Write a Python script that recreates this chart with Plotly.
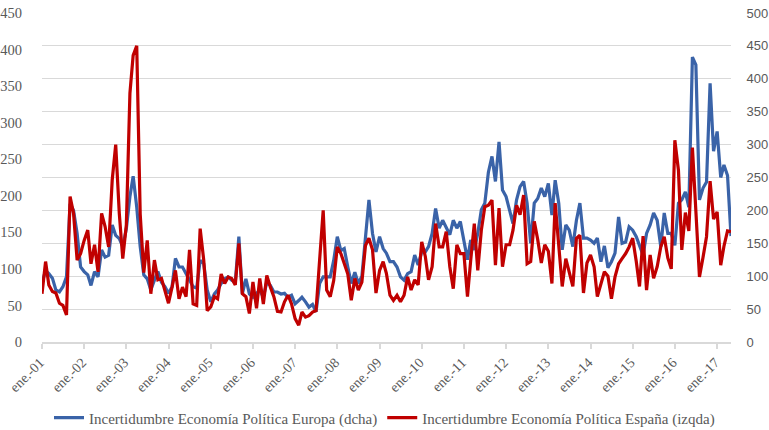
import pandas as pd
import plotly.graph_objects as go

# Índices mensuales, ene. 2001 - may. 2017
europa = [
    89, 109, 104, 97, 79, 76, 84, 99, 210, 200, 165, 114,
    107, 102, 86, 107, 99, 140, 129, 132, 178, 162, 157, 145,
    172, 221, 252, 205, 145, 102, 96, 79, 94, 107, 91, 84,
    74, 84, 127, 114, 114, 104, 95, 84, 82, 124, 119, 79,
    61, 73, 79, 89, 96, 99, 94, 91, 160, 73, 96, 73,
    68, 73, 79, 68, 91, 86, 76, 76, 73, 74, 68, 71,
    58, 63, 68, 61, 53, 57, 46, 89, 99, 99, 99, 124,
    160, 139, 142, 114, 89, 106, 89, 100, 165, 216, 165, 137,
    160, 142, 135, 122, 122, 114, 99, 94, 104, 107, 132, 117,
    137, 137, 145, 165, 203, 173, 185, 175, 163, 185, 173, 183,
    152, 125, 155, 140, 165, 201, 211, 258, 282, 244, 304, 231,
    221, 201, 180, 216, 236, 244, 211, 150, 211, 218, 234, 221,
    241, 193, 246, 211, 140, 178, 170, 145, 185, 211, 158, 158,
    155, 150, 158, 122, 146, 113, 122, 135, 190, 150, 152, 175,
    170, 160, 145, 132, 165, 178, 196, 185, 145, 196, 165, 165,
    147, 211, 216, 228, 205, 433, 421, 216, 234, 243, 393, 290,
    320, 250, 269, 253, 161,
]
espana = [
    66, 110, 78, 69, 67, 53, 50, 37, 199, 176, 112, 121,
    139, 153, 107, 133, 96, 176, 158, 130, 222, 270, 176, 114,
    160, 340, 392, 405, 175, 95, 139, 66, 112, 85, 87, 71,
    53, 75, 98, 59, 75, 62, 126, 52, 50, 155, 112, 43,
    48, 62, 59, 93, 80, 89, 87, 78, 135, 66, 62, 39,
    82, 46, 87, 52, 91, 75, 62, 42, 41, 55, 64, 52,
    32, 23, 41, 34, 36, 41, 43, 112, 180, 71, 62, 84,
    130, 121, 107, 93, 57, 87, 71, 82, 132, 142, 126, 67,
    98, 110, 94, 64, 57, 64, 55, 64, 89, 71, 85, 78,
    137, 117, 85, 103, 162, 130, 130, 151, 103, 73, 133, 121,
    121, 62, 112, 162, 98, 153, 185, 187, 194, 105, 183, 103,
    133, 133, 153, 187, 174, 201, 107, 110, 165, 140, 108, 133,
    124, 80, 190, 133, 76, 114, 94, 76, 142, 146, 67, 108,
    119, 103, 62, 80, 96, 90, 59, 89, 107, 114, 121, 130,
    142, 110, 76, 145, 71, 119, 87, 103, 130, 144, 115, 100,
    276, 235, 126, 177, 152, 266, 185, 89, 116, 144, 220, 168,
    178, 105, 131, 152, 151,
]
meses = pd.date_range("2001-01-01", periods=len(espana), freq="MS")
tick_fechas = pd.date_range("2001-01-01", "2017-01-01", freq="YS")
tick_textos = ["ene.-%02d" % (f.year % 100) for f in tick_fechas]

gris = "#595959"
serif = "Liberation Serif"

fig = go.Figure()
fig.add_trace(go.Scatter(
    x=meses, y=europa, mode="lines", yaxis="y",
    name="Incertidumbre Economía Política Europa (dcha)",
    line=dict(color="#3a63a8", width=3.2),
))
fig.add_trace(go.Scatter(
    x=meses, y=espana, mode="lines", yaxis="y2",
    name="Incertidumbre Economía Política España (izqda)",
    line=dict(color="#c00000", width=3.2),
))

fig.update_layout(
    width=769, height=430,
    margin=dict(l=42, r=38, t=13, b=88, autoexpand=False),
    paper_bgcolor="white", plot_bgcolor="white",
    showlegend=True,
    legend=dict(
        orientation="h", xref="container", yref="container",
        x=0.5, xanchor="center", y=0.028, yanchor="middle",
        font=dict(family=serif, size=15, color=gris),
        bgcolor="rgba(0,0,0,0)",
    ),
    xaxis=dict(
        range=[meses[0], meses[-1]], automargin=False,
        tickvals=tick_fechas, ticktext=tick_textos, tickangle=-45,
        tickfont=dict(family=serif, size=14, color=gris),
        ticklabelshift=-2, ticklabeloverflow="allow",
        showgrid=False, showline=True, linecolor="#d9d9d9", linewidth=1.5,
        ticks="outside", ticklen=5, tickcolor="#d9d9d9", tickwidth=1.5,
    ),
    # eje derecho (Europa) con las líneas de rejilla
    yaxis=dict(
        side="right", range=[0, 500], dtick=50, automargin=False,
        showgrid=True, gridcolor="#d9d9d9", gridwidth=1.3,
        zeroline=False,
        tickfont=dict(family="Liberation Sans", size=13, color=gris),
        ticks="outside", ticklen=12, tickcolor="rgba(0,0,0,0)",
    ),
    # eje izquierdo (España)
    yaxis2=dict(
        overlaying="y", side="left", range=[0, 450], dtick=50,
        automargin=False, showgrid=False, zeroline=False,
        tickfont=dict(family=serif, size=14.5, color=gris),
        ticks="outside", ticklen=16, tickcolor="rgba(0,0,0,0)",
    ),
)

# quitar el margen por defecto del <body> para que la figura empiece en (0, 0)
fig.write_html(
    "out.html",
    config={"displayModeBar": False},
    post_script="document.body.style.margin = '0';",
)
